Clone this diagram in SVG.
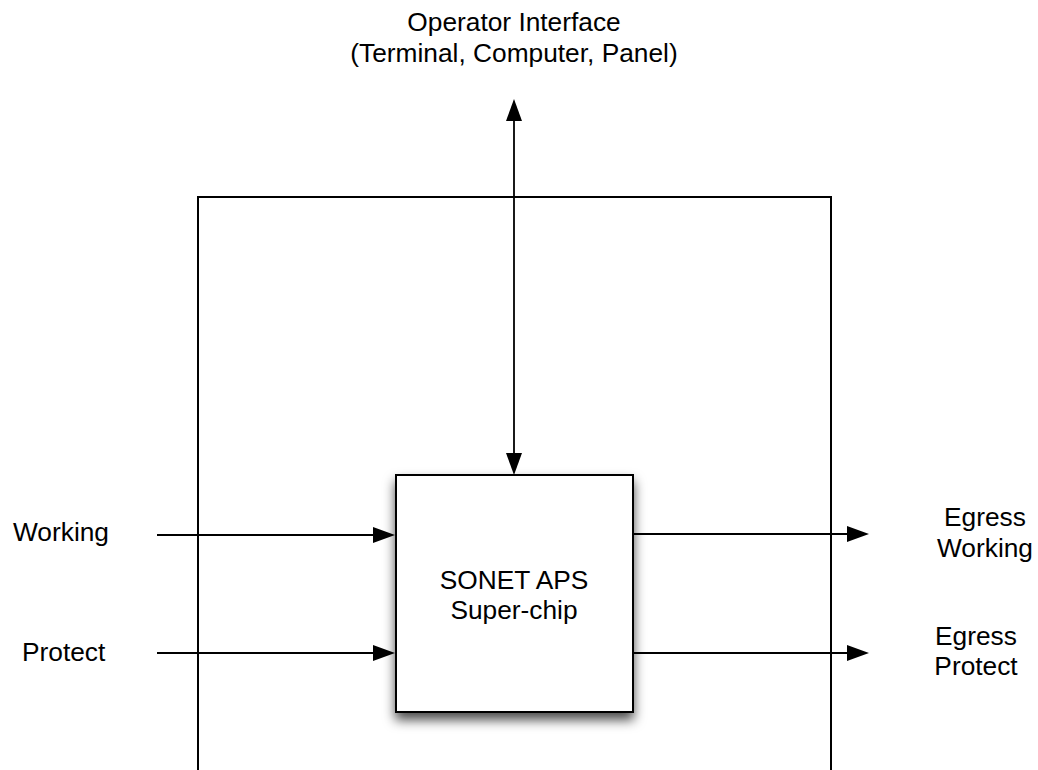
<svg xmlns="http://www.w3.org/2000/svg" width="1038" height="770" viewBox="0 0 1038 770">
  <style>
    .lbl { font-family: "Liberation Sans", Arial, Helvetica, sans-serif; font-size: 26.3px; fill: #000; }
    .mid { text-anchor: middle; }
    .conn { stroke: #000; stroke-width: 1.8; fill: none; }
    .frame { stroke: #000; stroke-width: 2; fill: none; }
    .chip { fill: #fff; stroke: #000; stroke-width: 2; }
  </style>
  <defs>
    <marker id="arrow" viewBox="0 0 22 16" markerUnits="userSpaceOnUse" markerWidth="22" markerHeight="16" refX="16" refY="8" orient="auto-start-reverse">
      <path d="M0,0 L22,8 L0,16 z" fill="#000"/>
    </marker>
    <filter id="shadow" x="-20%" y="-20%" width="140%" height="150%">
      <feDropShadow dx="0" dy="7" stdDeviation="6" flood-color="#000" flood-opacity="0.7"/>
    </filter>
  </defs>
  <rect width="1038" height="770" fill="#fff"/>

  <g id="system-frame">
    <path class="frame" d="M198,772 V197 H831 V772"/>
  </g>

  <g id="connectors">
    <line class="conn" x1="514" y1="105" x2="514" y2="469" marker-start="url(#arrow)" marker-end="url(#arrow)"/>
    <line class="conn" x1="157" y1="535" x2="389" y2="535" marker-end="url(#arrow)"/>
    <line class="conn" x1="157" y1="653" x2="389" y2="653" marker-end="url(#arrow)"/>
    <line class="conn" x1="633" y1="534" x2="863" y2="534" marker-end="url(#arrow)"/>
    <line class="conn" x1="633" y1="653" x2="863" y2="653" marker-end="url(#arrow)"/>
  </g>

  <g id="operator-interface">
    <text class="lbl mid" x="514" y="31">Operator Interface</text>
    <text class="lbl mid" x="514" y="62">(Terminal, Computer, Panel)</text>
  </g>

  <g id="input-working">
    <text class="lbl" x="13" y="541">Working</text>
  </g>
  <g id="input-protect">
    <text class="lbl" x="22" y="661">Protect</text>
  </g>

  <g id="sonet-aps-chip">
    <rect class="chip" x="396" y="475" width="237" height="237" filter="url(#shadow)"/>
    <text class="lbl mid" x="514" y="589">SONET APS</text>
    <text class="lbl mid" x="514" y="619">Super-chip</text>
  </g>

  <g id="egress-working">
    <text class="lbl mid" x="985" y="526">Egress</text>
    <text class="lbl mid" x="985" y="557">Working</text>
  </g>
  <g id="egress-protect">
    <text class="lbl mid" x="976" y="645">Egress</text>
    <text class="lbl mid" x="976" y="675">Protect</text>
  </g>
</svg>
